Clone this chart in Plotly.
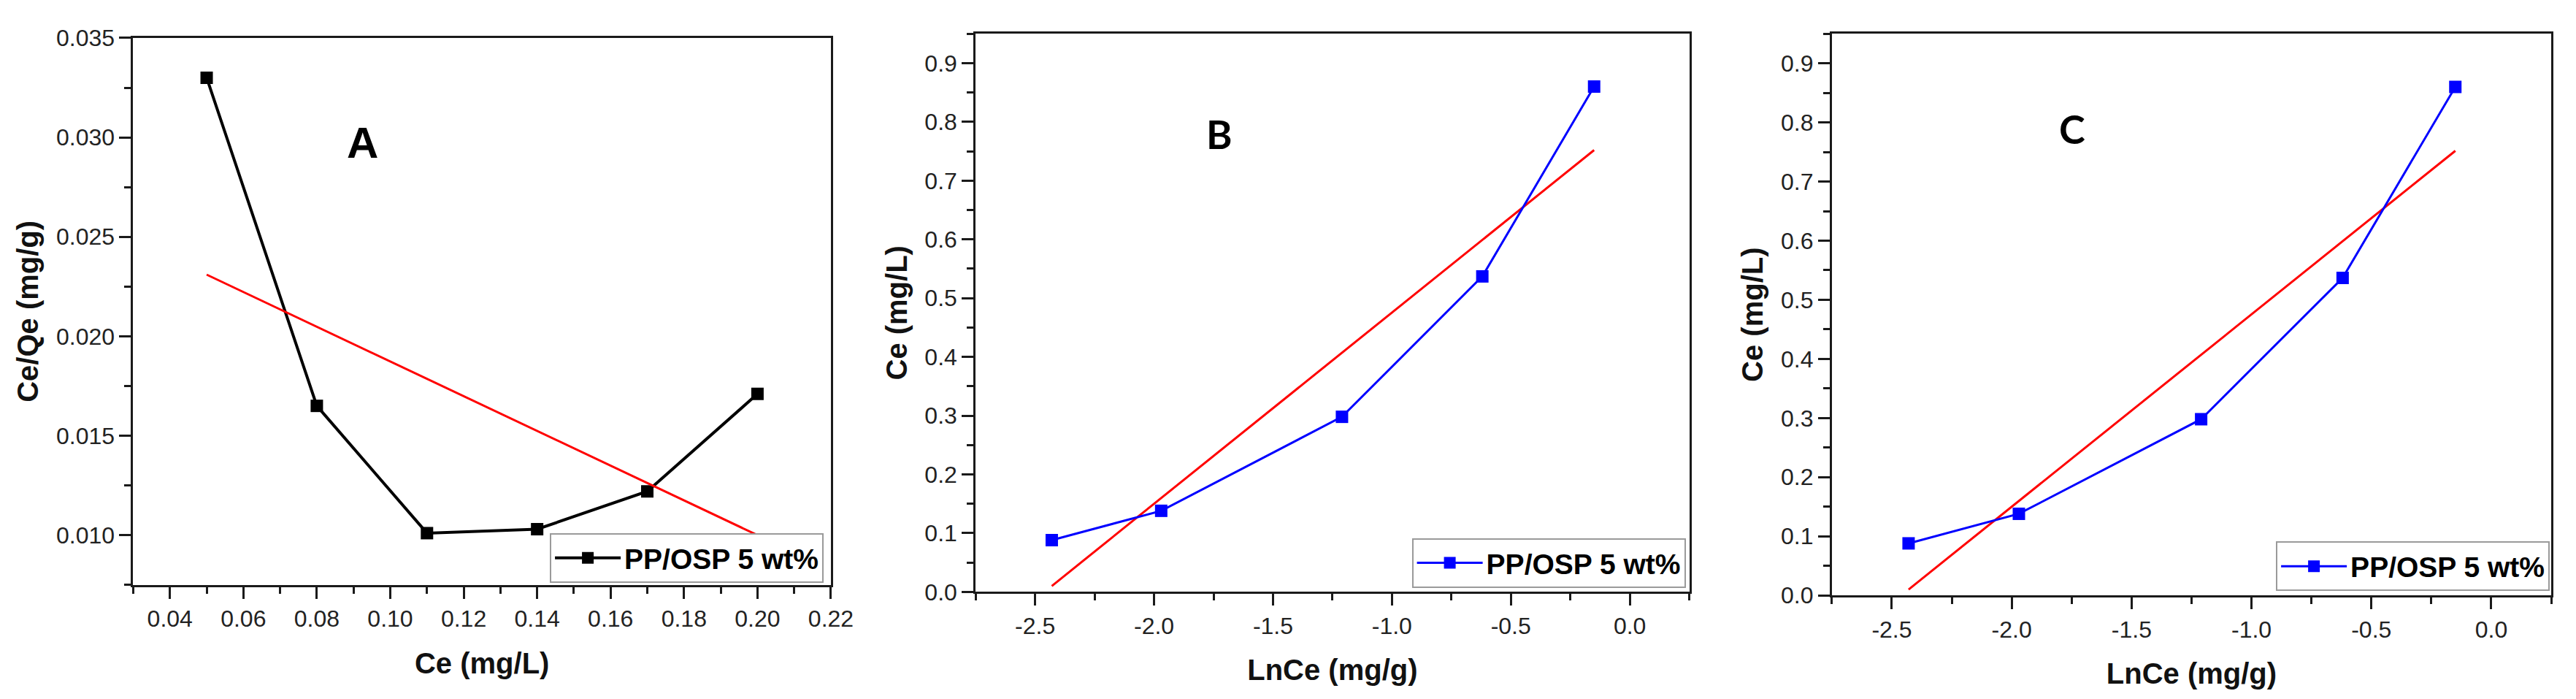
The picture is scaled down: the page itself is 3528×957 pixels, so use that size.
import plotly.graph_objects as go

# --- data ---
# Panel A: Langmuir-type plot
ce_a = [0.05, 0.08, 0.11, 0.14, 0.17, 0.20]
ceqe_a = [0.0330, 0.0165, 0.0101, 0.0103, 0.0122, 0.0171]
fit_a_x = [0.05, 0.20]
fit_a_y = [0.0231, 0.0100]

# Panels B and C: Ce vs LnCe (same data in both)
lnce = [-2.43, -1.97, -1.21, -0.62, -0.15]
ce = [0.088, 0.138, 0.298, 0.537, 0.860]
fit_bc_x = [-2.43, -0.15]
fit_bc_y = [0.010, 0.752]

ln_tickvals = [-2.5, -2.0, -1.5, -1.0, -0.5, 0.0]
ln_ticktext = ["-2.5", "-2.0", "-1.5", "-1.0", "-0.5", "0.0"]

series_name = "PP/OSP 5 wt%"
panel_letters = ["A", "B", "C"]

W, H = 3528, 957
BLUE = "#0000FF"
RED = "#FF0000"
AXC = "#1a1a1a"
FONT = "Liberation Sans, Arial, sans-serif"

fig = go.Figure()

# panel A
fig.add_trace(go.Scatter(x=ce_a, y=ceqe_a, mode="lines+markers", name=series_name,
                         line=dict(color="black", width=4),
                         marker=dict(symbol="square", size=17, color="black"),
                         xaxis="x", yaxis="y", legend="legend"))
fig.add_trace(go.Scatter(x=fit_a_x, y=fit_a_y, mode="lines", showlegend=False,
                         line=dict(color=RED, width=3), xaxis="x", yaxis="y"))

# panels B and C
for k, (xa, ya, lg) in enumerate([("x2", "y2", "legend2"), ("x3", "y3", "legend3")]):
    fig.add_trace(go.Scatter(x=fit_bc_x, y=fit_bc_y, mode="lines", showlegend=False,
                             line=dict(color=RED, width=3), xaxis=xa, yaxis=ya))
    fig.add_trace(go.Scatter(x=lnce, y=ce, mode="lines+markers", name=series_name,
                             line=dict(color=BLUE, width=3),
                             marker=dict(symbol="square", size=17, color=BLUE),
                             xaxis=xa, yaxis=ya, legend=lg))

tickfont = dict(family=FONT, size=32, color="#222222")
titlefont = dict(family=FONT, size=40, color="#111111", weight="bold")


def axis_common():
    return dict(showline=True, linecolor=AXC, linewidth=3, mirror=True,
                ticks="outside", ticklen=16, tickwidth=3, tickcolor=AXC,
                showgrid=False, zeroline=False, tickfont=tickfont,
                minor=dict(ticks="outside", ticklen=9, tickwidth=3, tickcolor=AXC, showgrid=False))


dom = {
    "A": dict(x=[176 / W, 1140 / W], y=[1 - 805 / H, 1 - 27 / H]),
    "B": dict(x=[1340 / W, 2326 / W], y=[1 - 815 / H, 1 - 21 / H]),
    "C": dict(x=[2523 / W, 3517 / W], y=[1 - 820 / H, 1 - 21 / H]),
}

xa = axis_common()
xa.update(domain=dom["A"]["x"], anchor="y", range=[0.03, 0.22], dtick=0.02, tick0=0.04,
          tickformat=".2f", title=dict(text="Ce (mg/L)", font=titlefont, standoff=30))
xa["minor"].update(dtick=0.01, tick0=0.03)
ya = axis_common()
ya.update(domain=dom["A"]["y"], anchor="x", range=[0.0075, 0.035], dtick=0.005, tick0=0,
          tickformat=".3f", title=dict(text="Ce/Qe (mg/g)", font=titlefont, standoff=12))
ya["minor"].update(dtick=0.0025, tick0=0)

layout_axes = dict(xaxis=xa, yaxis=ya)
for i, p in [(2, "B"), (3, "C")]:
    x = axis_common()
    x.update(domain=dom[p]["x"], anchor=f"y{i}", range=[-2.75, 0.25], tickmode="array",
             tickvals=ln_tickvals, ticktext=ln_ticktext,
             title=dict(text="LnCe (mg/g)", font=titlefont, standoff=30))
    x["minor"].update(dtick=0.25, tick0=0)
    y = axis_common()
    y.update(domain=dom[p]["y"], anchor=f"x{i}", range=[0, 0.95], dtick=0.1, tick0=0,
             tickformat=".1f", title=dict(text="Ce (mg/L)", font=titlefont, standoff=12))
    y["minor"].update(dtick=0.05, tick0=0)
    layout_axes[f"xaxis{i}"] = x
    layout_axes[f"yaxis{i}"] = y


def legend_at(xr, yb):
    return dict(x=xr, y=yb, xanchor="right", yanchor="bottom", bgcolor="white",
                bordercolor="#9a9a9a", borderwidth=2, itemwidth=90,
                font=dict(family=FONT, size=39, color="black", weight="bold"))


fig.update_layout(
    width=W, height=H,
    margin=dict(l=0, r=0, t=0, b=0),
    paper_bgcolor="white", plot_bgcolor="white",
    legend=legend_at(1130 / W, 1 - 802 / H),
    legend2=legend_at(2321 / W, 1 - 809 / H),
    legend3=legend_at(3515 / W, 1 - 814 / H),
    **layout_axes,
)

# panel letters
letter_pos = [(469 / W, 1 - 139 / H), (1677 / W, 1 - 128 / H), (2875 / W, 1 - 121 / H)]
letter_fonts = [dict(family=FONT, size=60, color="black", weight="bold"),
                dict(family="Lato, sans-serif", size=54, color="black", weight="bold"),
                dict(family="Lato, sans-serif", size=54, color="black", weight="bold")]
for letter, (lx, ly), lf in zip(panel_letters, letter_pos, letter_fonts):
    fig.add_annotation(x=lx, y=ly, xref="paper", yref="paper", text=letter,
                       showarrow=False, font=lf)

fig.write_html("out.html")
